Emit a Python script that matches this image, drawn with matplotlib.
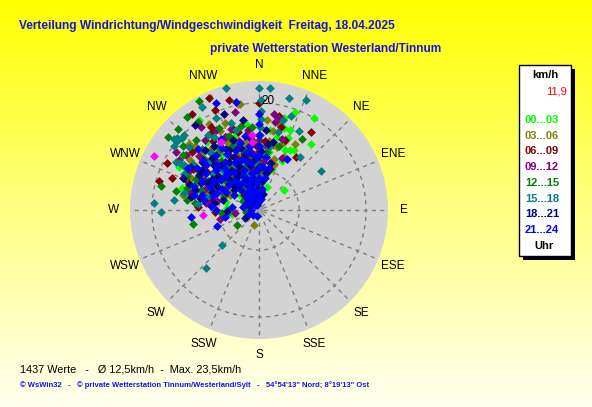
import numpy as np
import matplotlib
matplotlib.use("Agg")
import matplotlib.pyplot as plt
from matplotlib.patches import Rectangle
from matplotlib.colors import LinearSegmentedColormap

# wind direction (deg) / speed (km/h) pairs per hour group
h00_03 = [(15, 17.8), (20, 19.5), (31, 20.0), (38, 15.7), (22, 14.5), (17, 16.0), (51, 6.0),
          (23, 12.2), (27, 12.6), (326, 20.2), (284, 6.3), (340, 12), (350, 10), (5, 9), (10, 11),
          (355, 14), (330, 8), (345, 6), (0, 13), (12, 7), (8, 15), (335, 11), (320, 9), (358, 5),
          (3, 4), (25, 10), (18, 8), (30, 13), (12, 3), (315, 10), (300, 12), (325, 14), (310, 7),
          (352, 16), (338, 4), (290, 9), (305, 15), (342, 17),
          (333, 9.5), (347, 12.5), (318, 11.5), (303, 8), (292, 13), (282, 11), (357, 8.5),
          (7, 12), (14, 14), (21, 16), (328, 6.5), (341, 14.5), (312, 16.5), (298, 17), (286, 15),
          (274, 6), (262, 5), (336, 2.5), (350, 3.5), (2, 6.5), (323, 16), (308, 4.5), (344, 9),
          (326, 12.5), (315, 2), (20, 4.5)]
h03_06 = [(350, 20.2), (16, 12.3), (29, 14.0), (349, 20.2), (5, 16.9), (13, 16.5), (20, 13.6),
          (10, 15), (8, 13), (25, 11), (330, 18.6), (315, 17), (306, 16), (200, 3), (340, 8),
          (355, 10), (2, 12), (320, 9), (310, 11), (335, 14), (345, 6), (0, 7), (350, 5), (325, 13),
          (300, 12), (290, 10), (330, 9), (315, 15), (338, 11), (348, 13), (18, 9), (322, 6),
          (295, 14), (3, 10),
          (327, 10.5), (343, 8.5), (312, 7.5), (303, 13.5), (286, 12.5), (276, 9), (359, 11.5),
          (9, 6.5), (16, 10), (334, 16.5), (352, 14.5), (319, 12), (297, 6), (281, 14.5),
          (262, 6.5), (346, 3), (331, 4.5), (6, 3.5), (313, 18), (339, 17.5), (322, 14.5),
          (306, 9.5), (357, 9), (12, 12.5)]
h06_09 = [(336, 23.0), (325, 21.9), (336, 20.4), (297, 19.2), (286, 19.4), (290, 17.3),
          (345, 21.3), (0, 20.0), (34, 17.5), (35, 12.1), (20, 14), (15, 16), (12, 18), (320, 13),
          (310, 14), (268, 8.2), (265, 6), (330, 9), (345, 11), (355, 7), (5, 13), (315, 12),
          (300, 10), (325, 6), (340, 14), (350, 8), (0, 4), (310, 11), (335, 15), (320, 5),
          (295, 9), (280, 10), (328, 17), (342, 16),
          (332, 11.5), (348, 9.5), (317, 8.5), (302, 14.5), (288, 12.5), (273, 11.5), (358, 12),
          (8, 10), (15, 8), (326, 15.5), (341, 12.5), (311, 16.5), (296, 7), (283, 9), (338, 3.5),
          (353, 5.5), (321, 10.5), (306, 12), (345, 15), (0, 9), (330, 18), (316, 4), (293, 15),
          (336, 6.5)]
h09_12 = [(302, 17.7), (284, 13.3), (346, 18.9), (9, 18.2), (10, 16.7), (24, 10.6), (12, 17.5),
          (18, 14), (305, 19), (325, 19), (340, 10), (350, 12), (330, 8), (355, 7), (0, 13),
          (315, 11), (320, 14), (345, 6), (5, 9), (300, 12), (335, 15), (310, 10), (325, 5),
          (290, 11), (257, 7.5), (338, 12), (352, 15), (318, 7), (332, 17), (298, 15),
          (329, 9.5), (344, 13.5), (314, 9), (304, 7.5), (287, 13.5), (277, 10), (357, 10.5),
          (6, 12), (15, 9), (322, 16.5), (337, 10.5), (312, 15), (295, 10.5), (282, 8), (262, 4.5),
          (347, 8), (333, 3), (1, 5.5), (319, 12.5), (307, 17), (352, 11), (326, 7.5), (341, 16),
          (297, 13)]
h12_15 = [(331, 23.3), (322, 22.0), (315, 21.3), (309, 21.8), (310, 18.5), (284, 18.9),
          (295, 14.9), (278, 13.6), (258, 12.6), (236, 5.0), (287, 14.0), (31, 15.5), (325, 20),
          (318, 17.5), (300, 16), (335, 9), (345, 11), (355, 13), (320, 8), (330, 12), (340, 7),
          (310, 10), (350, 6), (0, 14), (5, 5), (300, 11), (315, 12), (325, 10), (290, 9),
          (338, 15), (348, 16), (305, 13),
          (327, 13.5), (342, 8.5), (313, 14), (303, 9.5), (289, 11.5), (276, 12), (358, 9),
          (8, 11), (17, 12.5), (334, 17), (351, 10.5), (318, 6.5), (296, 13), (283, 16), (266, 7),
          (345, 4.5), (329, 5), (4, 7.5), (311, 8.5), (322, 11.5), (337, 13), (306, 17.5),
          (355, 15.5), (292, 7), (345, 2), (300, 3.5), (260, 2.5)]
h15_18 = [(345, 23.5), (0, 22.8), (5, 22.9), (15, 21.7), (23, 22.3), (331, 22.0), (335, 19.0),
          (313, 19.6), (311, 20.4), (307, 20.0), (300, 18.0), (301, 17.2), (301, 16.3),
          (274, 19.7), (277, 16.0), (269, 18.3), (283, 14.4), (227, 9.5), (222, 14.7), (38, 12.5),
          (58, 13.6), (27, 16.5), (19, 18.6), (15, 17.4), (310, 20.7), (310, 20.0), (315, 19.8),
          (1, 20.5), (1, 18.5), (1, 17), (1, 15.5), (1, 14), (1, 12), (2, 10.5), (330, 12),
          (340, 10), (320, 14), (350, 9), (315, 13), (325, 11), (335, 8), (305, 15), (345, 7),
          (355, 6), (328, 16), (342, 17),
          (332, 9.5), (347, 11.5), (318, 10), (302, 12.5), (288, 13), (276, 11.5), (358, 8.5),
          (9, 12), (14, 15), (326, 17), (341, 13.5), (312, 17.5), (296, 15.5), (284, 10),
          (263, 6), (337, 4.5), (352, 3.5), (5, 6), (321, 7), (308, 11), (344, 15.5), (328, 14),
          (299, 9), (317, 15.5)]
h18_21 = [(323, 20.0), (293, 15.4), (281, 11.3), (340, 19), (350, 17), (5, 15), (12, 13),
          (300, 13), (330, 8), (340, 10), (320, 6), (350, 7), (315, 12), (325, 9), (335, 11),
          (305, 13), (345, 5), (355, 4), (0, 8), (310, 10), (295, 12), (285, 7), (300, 9),
          (330, 3), (340, 14), (320, 11), (350, 6), (10, 7), (332, 13), (318, 15), (344, 12),
          (308, 6), (290, 14), (2, 11),
          (326, 7.5), (336, 9), (316, 8), (304, 10.5), (291, 9.5), (279, 8.5), (356, 9.5),
          (6, 5.5), (13, 9), (333, 12.5), (346, 10.5), (311, 13.5), (297, 11), (287, 12.5),
          (268, 6), (343, 2.5), (322, 3.5), (359, 2), (313, 6.5), (328, 10.5), (348, 8.5),
          (302, 15), (338, 6), (318, 13), (353, 13.5), (281, 13), (8, 12.5), (325, 14.5),
          (330, 1.5), (355, 2.5), (290, 2), (240, 3), (15, 3), (310, 2.5)]
h21_24 = [(264, 12.8), (249, 8.4), (338, 21.6), (348, 20.6), (29, 10.9), (301, 15.4), (0, 16),
          (0, 14), (0, 12), (0, 10), (0, 18), (330, 6), (340, 8), (320, 10), (350, 7), (315, 9),
          (325, 11), (335, 5), (305, 12), (345, 4), (355, 3), (0, 6), (310, 13), (295, 10),
          (285, 11), (300, 8), (330, 12), (340, 10), (320, 7), (350, 9), (5, 8), (10, 6),
          (338, 2), (328, 4), (318, 5), (308, 9), (348, 11), (358, 10), (2, 8), (312, 14),
          (298, 7), (322, 13), (332, 15), (344, 13), (352, 12), (315, 16), (290, 13), (275, 9),
          (327, 8.5), (337, 7), (317, 11.5), (303, 10), (292, 8.5), (280, 10.5), (357, 7.5),
          (7, 10), (14, 8), (333, 10), (346, 6), (313, 11), (297, 12), (287, 9), (270, 8),
          (342, 3.5), (324, 2.5), (355, 5), (311, 7.5), (329, 13.5), (349, 14), (304, 14),
          (339, 12), (319, 9), (353, 10.5), (283, 12.5), (9, 4), (322, 6.5), (334, 3), (345, 9.5),
          (300, 5.5), (316, 3.5), (258, 6.5), (276, 5),
          (350, 1.5), (10, 2), (300, 2.5), (280, 3), (250, 2), (230, 1.5), (200, 1.2), (320, 1.2),
          (5, 3.5), (340, 1), (270, 1.5)]
latest = [(297, 22.1), (354, 12.8), (355, 14.0), (331, 14.5), (265, 10.5)]

hour_labels = ["00...03", "03...06", "06...09", "09...12", "12...15", "15...18", "18...21", "21...24"]
hour_colors = ["#00ff00", "#808000", "#800000", "#800080", "#008000", "#008080", "#000080", "#0000ff"]
hour_data = [h00_03, h03_06, h06_09, h09_12, h12_15, h15_18, h18_21, h21_24]

directions = ["N", "NNE", "NE", "ENE", "E", "ESE", "SE", "SSE",
              "S", "SSW", "SW", "WSW", "W", "WNW", "NW", "NNW"]
current_speed = "11,9"
n_values = 1437
mean_speed = "12,5"
max_speed = "23,5"

W, H = 592, 407
plt.rcParams["font.family"] = ["Liberation Sans", "DejaVu Sans"]


def px(x, y):
    return x / W, 1 - y / H


fig = plt.figure(figsize=(W / 100, H / 100), dpi=100)

# yellow gradient background
bg = fig.add_axes([0, 0, 1, 1])
cmap = LinearSegmentedColormap.from_list("bg", ["#ffff00", "#ffff80", "#fffff0"])
bg.imshow(np.linspace(0, 1, 256).reshape(-1, 1), aspect="auto", cmap=cmap,
          extent=[0, 1, 0, 1])
bg.set_axis_off()

cx, cy, R = 259, 210, 129
rmax = 24.1
ax = fig.add_axes([(cx - R) / W, (H - cy - R) / H, 2 * R / W, 2 * R / H], projection="polar")
ax.set_theta_zero_location("N")
ax.set_theta_direction(-1)
ax.set_ylim(0, rmax)
ax.set_facecolor("#d3d3d3")
ax.grid(False)
ax.set_xticks([])
ax.set_yticks([])
ax.spines["polar"].set_visible(False)

dash = (0, (3, 3))
for i in range(16):
    a = np.radians(i * 22.5)
    ax.plot([a, a], [0.8, rmax], color="#808080", lw=1, ls=dash, zorder=1)
th = np.linspace(0, 2 * np.pi, 400)
for rr in [7.5, 20]:
    ax.plot(th, np.full_like(th, rr), color="#808080", lw=1, ls=dash, zorder=1)

for i, lab in enumerate(directions):
    ax.text(np.radians(i * 22.5), 27.1, lab, ha="center", va="center", fontsize=8.5,
            color="black", clip_on=False)
ax.text(np.radians(1.5), 20.3, "20", ha="left", va="center", fontsize=8.5, color="black",
        zorder=5)

ax.scatter([0], [0], marker="s", s=20, color="#a0a0a0", zorder=2)
for col, data in zip(hour_colors, hour_data):
    d = np.radians([p[0] for p in data])
    s = [p[1] for p in data]
    ax.scatter(d, s, marker="D", s=20, color=col, linewidths=0, zorder=3, clip_on=False)
ax.scatter(np.radians([p[0] for p in latest]), [p[1] for p in latest], marker="D", s=20,
           color="#ff00ff", linewidths=0, zorder=3)

# titles
tcol = "#1414e6"
fig.text(*px(19, 26), "Verteilung Windrichtung/Windgeschwindigkeit  Freitag, 18.04.2025",
         fontsize=8.6, fontweight="bold", color=tcol, va="center", ha="left")
fig.text(*px(210, 49), "private Wetterstation Westerland/Tinnum",
         fontsize=8.6, fontweight="bold", color=tcol, va="center", ha="left")

# legend box with shadow
bx, by, bw, bh = 519, 65, 52, 191
fig.add_artist(Rectangle(px(bx + 4, by + bh + 4), (bw) / W, (bh) / H, transform=fig.transFigure,
                         facecolor="black", edgecolor="none"))
fig.add_artist(Rectangle(px(bx, by + bh), bw / W, bh / H, transform=fig.transFigure,
                         facecolor="white", edgecolor="black", lw=1))
fig.text(*px(545, 75), "km/h", fontsize=8, fontweight="bold", ha="center", va="center")
fig.text(*px(567, 92), current_speed, fontsize=8, color="red", ha="right", va="center")
for k, (lab, col) in enumerate(zip(hour_labels, hour_colors)):
    fig.text(*px(542, 120 + k * 15.7), lab, fontsize=8, fontweight="bold", color=col,
             ha="center", va="center")
fig.text(*px(544, 246), "Uhr", fontsize=8, fontweight="bold", ha="center", va="center")

fig.text(*px(20, 369), f"{n_values} Werte   -   Ø {mean_speed}km/h  -  Max. {max_speed}km/h",
         fontsize=7.8, ha="left", va="center")
fig.text(*px(20, 385), "© WsWin32   -   © private Wetterstation Tinnum/Westerland/Sylt   -   "
         "54°54'13\" Nord; 8°19'13\" Ost", fontsize=5.5, fontweight="bold", color="#1414e6",
         ha="left", va="center")

fig.savefig("out.png", dpi=100)
